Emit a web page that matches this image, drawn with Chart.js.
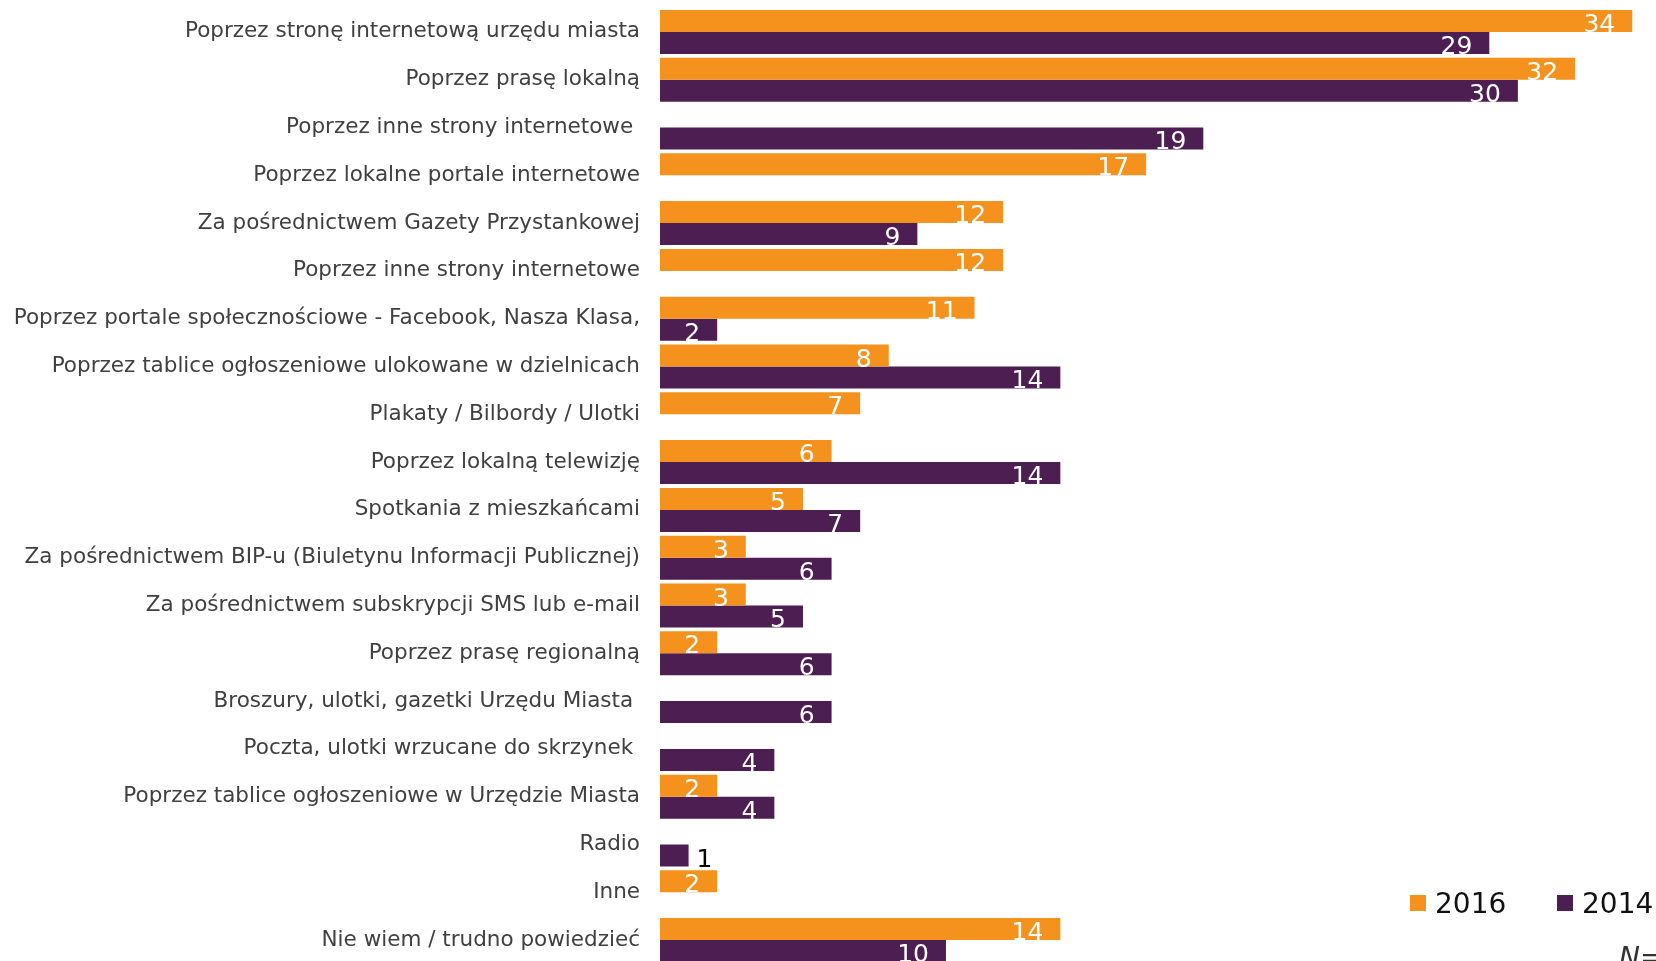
<!DOCTYPE html>
<html>
<head>
<meta charset="utf-8">
<script src="https://cdn.jsdelivr.net/npm/chart.js@4/dist/chart.umd.min.js"></script>
<style>
  html, body { margin: 0; padding: 0; background: #fff; overflow: hidden; }
  canvas { display: block; }
</style>
</head>
<body>
<canvas id="sourcesChart" width="1656" height="964"></canvas>
<script>
const categories = [
    "Poprzez stronę internetową urzędu miasta",
    "Poprzez prasę lokalną",
    "Poprzez inne strony internetowe ",
    "Poprzez lokalne portale internetowe",
    "Za pośrednictwem Gazety Przystankowej",
    "Poprzez inne strony internetowe",
    "Poprzez portale społecznościowe - Facebook, Nasza Klasa,",
    "Poprzez tablice ogłoszeniowe ulokowane w dzielnicach",
    "Plakaty / Bilbordy / Ulotki",
    "Poprzez lokalną telewizję",
    "Spotkania z mieszkańcami",
    "Za pośrednictwem BIP-u (Biuletynu Informacji Publicznej)",
    "Za pośrednictwem subskrypcji SMS lub e-mail",
    "Poprzez prasę regionalną",
    "Broszury, ulotki, gazetki Urzędu Miasta ",
    "Poczta, ulotki wrzucane do skrzynek ",
    "Poprzez tablice ogłoszeniowe w Urzędzie Miasta",
    "Radio",
    "Inne",
    "Nie wiem / trudno powiedzieć"
];
const values2016 = [34, 32, null, 17, 12, 12, 11, 8, 7, 6, 5, 3, 3, 2, null, null, 2, null, 2, 14];
const values2014 = [29, 30, 19, null, 9, null, 2, 14, null, 14, 7, 6, 5, 6, 6, 4, 4, 1, null, 10];
const seriesNames = ["2016", "2014"];
const noteText = "N=";

const ORANGE = "#F5921E";
const PURPLE = "#4D1E51";

// numbers at the end of each bar
const barValues = {
    id: "barValues",
    afterDatasetsDraw(chart) {
        const ctx = chart.ctx;
        ctx.save();
        ctx.font = "25px 'DejaVu Sans'";
        ctx.textBaseline = "alphabetic";
        chart.data.datasets.forEach(function (ds, di) {
            const meta = chart.getDatasetMeta(di);
            meta.data.forEach(function (bar, i) {
                const v = ds.data[i];
                if (v === null || v === undefined) return;
                const bottom = bar.y + bar.height / 2;
                const w = bar.x - bar.base;
                if (w < 40) {
                    ctx.fillStyle = "#000";
                    ctx.textAlign = "left";
                    ctx.fillText(String(v), bar.x + 8, bottom + 1);
                } else {
                    ctx.fillStyle = "#fff";
                    ctx.textAlign = "right";
                    ctx.fillText(String(v), bar.x - 17, bottom);
                }
            });
        });
        ctx.restore();
    }
};

// legend in the bottom right corner
const cornerLegend = {
    id: "cornerLegend",
    afterDraw(chart) {
        const ctx = chart.ctx;
        const spots = [1410, 1557];
        ctx.save();
        ctx.font = "28px 'DejaVu Sans'";
        ctx.textAlign = "left";
        ctx.textBaseline = "alphabetic";
        chart.data.datasets.forEach(function (ds, i) {
            ctx.fillStyle = ds.backgroundColor;
            ctx.fillRect(spots[i], 895, 16, 16);
            ctx.fillStyle = "#111";
            ctx.fillText(ds.label, spots[i] + 25, 913);
        });
        ctx.font = "italic 28px 'DejaVu Sans'";
        ctx.fillStyle = "#333";
        ctx.fillText(noteText, 1619, 967);
        ctx.restore();
    }
};

const ctx = document.getElementById("sourcesChart").getContext("2d");

new Chart(ctx, {
    type: "bar",
    data: {
        labels: categories,
        datasets: [{
            label: seriesNames[0],
            data: values2016,
            backgroundColor: ORANGE,
            categoryPercentage: 0.92,
            barPercentage: 1
        }, {
            label: seriesNames[1],
            data: values2014,
            backgroundColor: PURPLE,
            categoryPercentage: 0.92,
            barPercentage: 1
        }]
    },
    options: {
        indexAxis: "y",
        responsive: false,
        animation: false,
        layout: { padding: { top: 8, left: 0, right: 0, bottom: 0 } },
        plugins: {
            legend: { display: false },
            tooltip: { enabled: false }
        },
        scales: {
            x: {
                display: false,
                min: 0,
                max: 34.83
            },
            y: {
                afterFit: function (scale) {
                    scale.width = 660;
                    scale.paddingTop = 0;
                    scale.paddingBottom = 0;
                },
                grid: { display: false, drawTicks: false },
                border: { display: false },
                ticks: {
                    autoSkip: false,
                    padding: 20,
                    color: "#404040",
                    font: { family: "'DejaVu Sans'", size: 21.5 }
                }
            }
        }
    },
    plugins: [barValues, cornerLegend]
});
</script>
</body>
</html>
